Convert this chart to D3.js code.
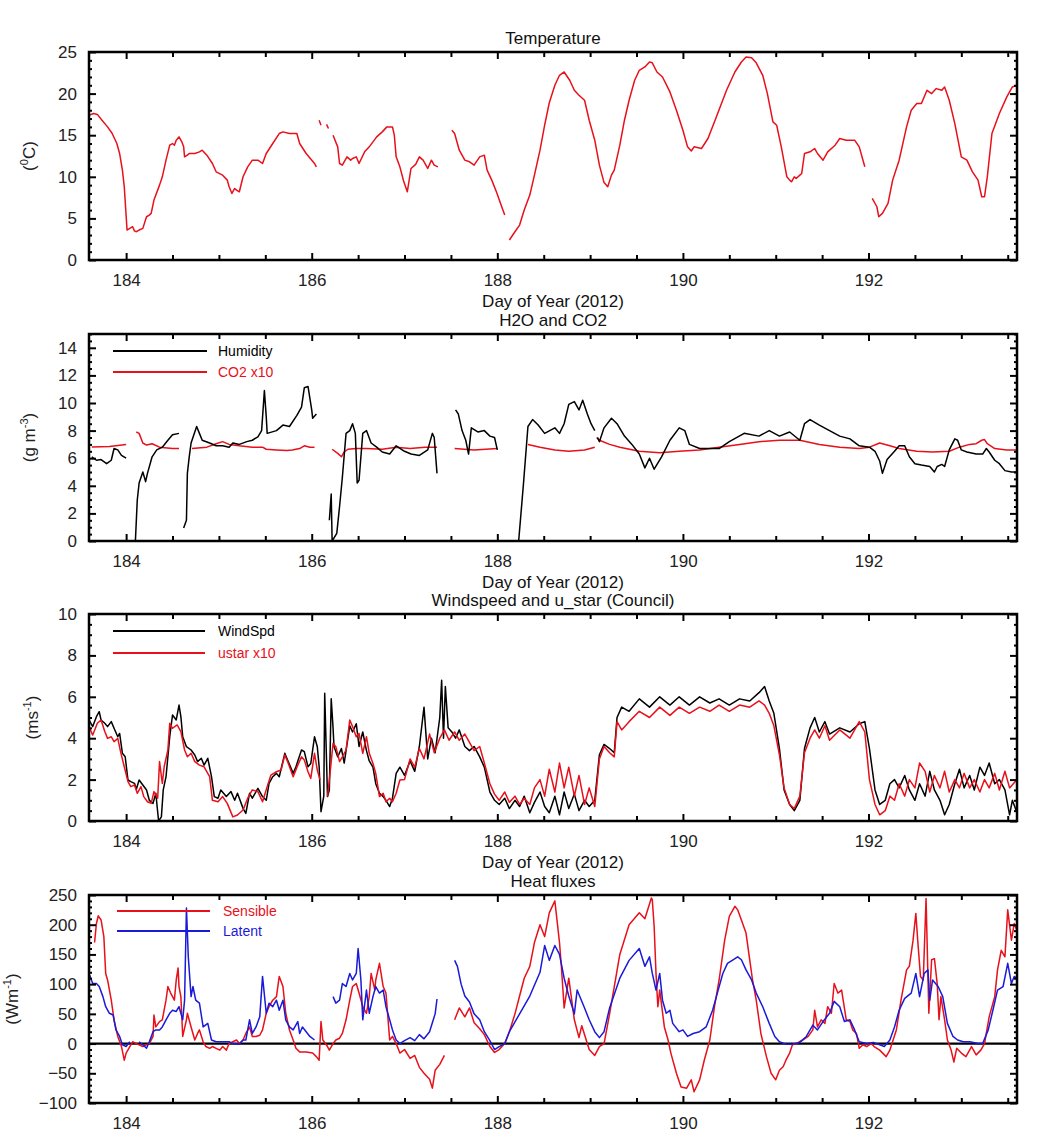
<!DOCTYPE html>
<html><head><meta charset="utf-8">
<script src="https://cdn.jsdelivr.net/npm/d3@7/dist/d3.min.js"></script>
<style>
body{margin:0;background:#fff;}
svg{font-family:"Liberation Sans",Arial,sans-serif;}
</style></head>
<body><svg id="chart" width="1056" height="1145"></svg>
<script>
// ---------------- DATA (day of year, value); each series = list of segments -------------
const dayDomain = [183.6, 193.6];
const dayLabels = [184, 186, 188, 190, 192];

const temperature = [
 [[183.6,17.4],[183.65,17.6],[183.69,17.5],[183.74,16.8],[183.80,16.0],[183.85,15.2],[183.90,14.0],[183.93,12.8],[183.96,10.8],[183.98,8.8],[184.01,3.6],[184.04,3.8],[184.07,4.0],[184.09,3.5],[184.11,3.4],[184.14,3.6],[184.18,3.8],[184.22,5.2],[184.25,5.4],[184.27,5.6],[184.30,7.2],[184.36,9.0],[184.39,10.0],[184.43,12.0],[184.47,13.8],[184.50,14.0],[184.52,13.8],[184.54,14.4],[184.57,14.8],[184.60,14.2],[184.62,13.6],[184.63,12.4],[184.66,12.6],[184.68,12.8],[184.74,12.8],[184.79,13.0],[184.82,13.2],[184.87,12.6],[184.93,11.6],[184.97,10.6],[185.04,10.2],[185.09,9.6],[185.11,8.8],[185.14,8.0],[185.17,8.6],[185.19,8.4],[185.22,8.2],[185.26,10.0],[185.31,11.2],[185.36,12.0],[185.42,12.0],[185.47,11.6],[185.51,12.8],[185.58,14.0],[185.65,15.2],[185.69,15.4],[185.76,15.2],[185.84,15.2],[185.87,14.0],[185.94,12.8],[186.03,11.6],[186.05,11.2]],
 [[186.08,16.8],[186.10,16.2]],
 [[186.16,16.3],[186.18,15.8]],
 [[186.23,15.0],[186.28,13.6],[186.30,11.6],[186.33,11.4],[186.38,12.4],[186.42,12.0],[186.44,12.2],[186.48,12.4],[186.51,11.6],[186.57,13.0],[186.62,13.6],[186.70,14.8],[186.76,15.4],[186.81,16.0],[186.87,16.0],[186.89,15.0],[186.91,12.4],[186.95,11.2],[186.99,9.5],[187.03,8.2],[187.07,11.0],[187.12,11.5],[187.16,12.4],[187.20,12.0],[187.25,11.0],[187.29,12.0],[187.32,11.4],[187.36,11.2]],
 [[187.51,15.6],[187.54,15.2],[187.59,13.2],[187.65,12.0],[187.70,11.8],[187.75,11.4],[187.81,12.4],[187.86,12.6],[187.89,10.8],[187.94,9.6],[187.99,8.2],[188.06,6.0],[188.08,5.4]],
 [[188.13,2.4],[188.19,3.4],[188.24,4.2],[188.29,6.0],[188.35,7.8],[188.40,10.2],[188.46,13.2],[188.51,16.2],[188.56,18.9],[188.62,21.0],[188.67,22.2],[188.72,22.6],[188.78,21.6],[188.83,20.4],[188.88,19.8],[188.94,19.2],[188.99,16.8],[189.05,14.4],[189.10,11.4],[189.15,9.3],[189.19,8.8],[189.23,10.2],[189.26,10.8],[189.32,13.8],[189.37,16.8],[189.42,19.2],[189.48,21.6],[189.53,22.8],[189.59,23.2],[189.64,23.8],[189.67,23.7],[189.72,22.6],[189.78,22.0],[189.86,20.2],[189.93,18.0],[190.00,15.6],[190.05,13.6],[190.09,13.1],[190.12,13.6],[190.20,13.4],[190.27,14.6],[190.36,17.2],[190.47,20.4],[190.56,22.6],[190.63,23.8],[190.68,24.4],[190.74,24.3],[190.79,23.7],[190.86,22.2],[190.91,20.0],[190.97,16.6],[191.01,16.2],[191.06,13.6],[191.12,10.0],[191.15,9.6],[191.17,9.4],[191.20,10.0],[191.22,9.8],[191.26,10.2],[191.28,10.4],[191.31,12.8],[191.37,13.0],[191.42,13.4],[191.45,12.8],[191.51,12.0],[191.56,13.0],[191.64,13.8],[191.69,14.6],[191.76,14.4],[191.85,14.4],[191.90,13.6],[191.96,11.2]],
 [[192.04,7.4],[192.09,6.4],[192.11,5.2],[192.15,5.6],[192.21,6.8],[192.26,9.6],[192.33,12.0],[192.41,16.0],[192.46,18.0],[192.52,18.8],[192.57,18.8],[192.63,20.4],[192.68,20.0],[192.73,20.6],[192.79,20.4],[192.82,20.8],[192.87,19.2],[192.93,16.4],[193.00,12.4],[193.06,12.0],[193.12,10.6],[193.18,9.6],[193.22,7.6],[193.25,7.6],[193.28,10.0],[193.33,15.2],[193.41,17.6],[193.49,19.6],[193.55,20.8],[193.60,21.0]]
];

const humidity = [
 [[183.63,6.1],[183.68,5.85],[183.73,5.9],[183.79,5.6],[183.84,5.85],[183.87,6.7],[183.91,6.6],[183.95,6.2],[184.0,6.0]],
 [[184.10,0],[184.12,2.95],[184.14,4.2],[184.18,5.0],[184.21,4.3],[184.23,4.9],[184.28,6.1],[184.33,6.6],[184.39,6.8],[184.45,7.3],[184.50,7.7],[184.57,7.8]],
 [[184.62,0.95],[184.65,1.5],[184.66,4.9],[184.68,6.1],[184.70,7.1],[184.76,8.3],[184.79,7.8],[184.82,7.3],[184.90,7.1],[184.97,6.9],[185.04,6.9],[185.11,6.8],[185.15,7.1],[185.22,7.0],[185.30,7.2],[185.36,7.3],[185.42,7.55],[185.46,8.0],[185.49,10.9],[185.51,9.0],[185.52,7.8],[185.62,8.0],[185.69,8.4],[185.76,8.3],[185.84,9.1],[185.89,9.7],[185.92,11.1],[185.96,11.2],[186.00,9.5],[186.01,8.9],[186.05,9.2]],
 [[186.19,1.5],[186.21,3.4],[186.22,0],[186.27,0.55],[186.30,2.5],[186.33,4.6],[186.37,7.8],[186.41,8.0],[186.44,8.5],[186.47,7.8],[186.49,4.2],[186.51,4.4],[186.55,7.8],[186.59,8.0],[186.64,7.1],[186.70,6.8],[186.76,6.45],[186.84,6.3],[186.91,6.9],[187.0,6.5],[187.07,6.3],[187.16,6.2],[187.25,6.6],[187.30,7.8],[187.32,7.5],[187.35,4.9]],
 [[187.55,9.5],[187.58,9.2],[187.62,8.0],[187.66,7.3],[187.69,6.3],[187.72,8.2],[187.79,7.9],[187.86,8.0],[187.92,7.6],[187.97,7.5],[188.00,6.6]],
 [[188.23,0],[188.28,4.0],[188.33,8.3],[188.38,8.8],[188.44,8.4],[188.51,7.8],[188.62,8.2],[188.67,7.8],[188.72,8.5],[188.77,9.9],[188.83,10.1],[188.88,9.5],[188.92,10.2],[188.97,9.2],[189.01,8.5],[189.05,8.0]],
 [[189.08,7.5],[189.10,7.2],[189.15,8.2],[189.23,8.9],[189.29,8.5],[189.37,7.6],[189.45,7.0],[189.53,6.3],[189.59,5.3],[189.64,6.0],[189.69,5.2],[189.77,6.1],[189.86,7.3],[189.96,8.2],[190.02,8.0],[190.07,7.0],[190.18,6.7],[190.39,6.7],[190.50,7.2],[190.66,7.8],[190.82,7.6],[190.93,8.0],[191.04,7.6],[191.15,7.9],[191.26,7.3],[191.31,8.5],[191.37,8.8],[191.47,8.4],[191.58,8.0],[191.69,7.6],[191.80,7.4],[191.90,6.9],[192.01,6.8],[192.07,6.5],[192.12,5.8],[192.15,4.9],[192.20,5.9],[192.28,6.5],[192.33,6.9],[192.39,6.9],[192.44,6.1],[192.50,5.6],[192.57,5.5],[192.66,5.4],[192.71,5.0],[192.74,5.4],[192.79,5.55],[192.82,5.4],[192.87,6.6],[192.93,7.4],[192.96,7.3],[193.00,6.6],[193.06,6.45],[193.16,6.3],[193.23,6.3],[193.27,6.7],[193.30,6.45],[193.36,5.85],[193.41,5.6],[193.47,5.1],[193.54,5.0],[193.60,5.0]]
];

const co2x10 = [
 [[183.63,6.82],[183.82,6.85],[184.0,7.0]],
 [[184.11,7.9],[184.14,7.8],[184.18,7.1],[184.22,6.95],[184.28,7.05],[184.36,6.8],[184.50,6.7],[184.57,6.7]],
 [[184.71,6.7],[184.87,6.8],[184.97,7.05],[185.04,7.2],[185.11,7.0],[185.22,6.9],[185.36,6.8],[185.47,6.8],[185.51,6.65],[185.62,6.6],[185.73,6.55],[185.79,6.6],[185.87,6.7],[185.92,6.9],[185.98,6.8],[186.03,6.8]],
 [[186.22,6.65],[186.28,6.35],[186.32,6.1],[186.35,6.45],[186.39,6.65],[186.48,6.7],[186.59,6.7],[186.76,6.65],[186.91,6.8],[187.06,6.7],[187.22,6.8],[187.35,6.8]],
 [[187.54,6.7],[187.75,6.6],[188.00,6.7]],
 [[188.33,7.0],[188.46,6.8],[188.62,6.6],[188.77,6.5],[188.94,6.6],[189.05,6.8]],
 [[189.07,7.5],[189.10,7.3],[189.21,7.0],[189.32,6.8],[189.53,6.5],[189.75,6.4],[189.96,6.5],[190.18,6.6],[190.39,6.8],[190.61,7.0],[190.82,7.2],[191.04,7.3],[191.26,7.3],[191.47,7.0],[191.69,6.8],[191.90,6.7],[192.01,6.8],[192.12,7.1],[192.23,6.9],[192.33,6.7],[192.52,6.5],[192.69,6.45],[192.87,6.5],[192.98,6.8],[193.09,7.0],[193.16,7.05],[193.22,7.3],[193.25,7.35],[193.28,7.05],[193.36,6.7],[193.49,6.6],[193.60,6.6]]
];

const windSpd = [
 [[183.60,4.88],[183.64,4.56],[183.68,5.04],[183.71,5.28],[183.73,4.88],[183.77,4.72],[183.80,4.56],[183.84,4.8],[183.87,4.48],[183.91,4.07],[183.93,4.23],[183.96,3.27],[183.99,3.1],[184.02,1.98],[184.05,1.9],[184.09,1.82],[184.11,1.53],[184.14,1.98],[184.18,1.74],[184.22,1.5],[184.25,1.0],[184.29,0.85],[184.32,1.34],[184.35,0],[184.38,0.2],[184.40,1.5],[184.43,2.14],[184.47,4.07],[184.50,5.12],[184.54,4.88],[184.57,5.6],[184.59,5.04],[184.61,4.07],[184.65,3.59],[184.70,3.43],[184.74,3.19],[184.77,2.87],[184.81,3.03],[184.84,2.7],[184.88,3.03],[184.92,2.14],[184.95,1.18],[184.99,1.1],[185.02,1.5],[185.08,1.18],[185.13,1.42],[185.17,1.0],[185.20,1.34],[185.26,0.61],[185.29,0.37],[185.33,1.34],[185.36,1.1],[185.42,1.58],[185.47,1.18],[185.51,1.0],[185.54,1.82],[185.58,2.14],[185.62,2.3],[185.65,2.14],[185.71,3.27],[185.74,2.95],[185.80,2.3],[185.83,2.62],[185.89,3.43],[185.92,3.35],[185.96,2.62],[185.99,2.78],[186.03,4.07],[186.06,3.59],[186.08,2.62],[186.10,0.45],[186.13,1.2],[186.14,6.17],[186.17,1.18],[186.19,1.5],[186.21,5.9],[186.23,4.5],[186.24,3.6],[186.28,3.1],[186.32,3.5],[186.35,2.8],[186.41,4.6],[186.44,4.3],[186.48,4.7],[186.51,3.6],[186.55,4.3],[186.59,3.4],[186.62,2.9],[186.66,2.6],[186.69,1.8],[186.73,1.34],[186.77,1.18],[186.80,1.0],[186.84,0.7],[186.87,1.1],[186.91,2.3],[186.95,2.6],[187.0,2.2],[187.06,2.9],[187.11,2.4],[187.16,3.6],[187.21,5.5],[187.25,3.0],[187.29,4.0],[187.33,3.3],[187.38,5.0],[187.40,6.8],[187.42,4.0],[187.44,6.5],[187.47,4.5],[187.51,4.3],[187.55,4.0],[187.59,4.4],[187.65,3.6],[187.70,3.4],[187.75,3.6],[187.81,3.1],[187.86,2.6],[187.92,1.4],[187.97,1.0],[188.02,0.8],[188.08,1.1],[188.13,0.6],[188.19,1.0],[188.24,0.7],[188.29,1.2],[188.35,0.4],[188.40,0.9],[188.46,1.4],[188.51,0.7],[188.56,0.4],[188.62,1.2],[188.67,0.3],[188.72,1.4],[188.77,0.6],[188.83,1.3],[188.88,0.5],[188.94,1.0],[188.99,0.7],[189.05,1.0],[189.10,3.2],[189.15,3.7],[189.21,3.5],[189.26,3.3],[189.29,5.0],[189.34,5.5],[189.42,5.3],[189.53,5.9],[189.64,5.5],[189.75,6.0],[189.86,5.6],[189.96,6.0],[190.07,5.6],[190.18,6.0],[190.29,5.7],[190.39,5.9],[190.50,5.6],[190.61,5.9],[190.72,5.8],[190.82,6.2],[190.88,6.5],[190.93,5.8],[190.98,5.2],[191.04,3.5],[191.09,1.5],[191.15,0.8],[191.20,0.5],[191.26,1.0],[191.31,3.5],[191.37,4.5],[191.42,5.0],[191.47,4.3],[191.53,4.8],[191.58,4.2],[191.69,4.5],[191.80,4.3],[191.90,4.7],[191.96,4.8],[192.01,3.5],[192.07,1.5],[192.12,0.8],[192.18,1.0],[192.23,1.8],[192.28,2.0],[192.33,1.6],[192.39,2.2],[192.44,1.5],[192.50,1.0],[192.55,1.8],[192.61,1.2],[192.66,2.4],[192.71,1.5],[192.77,1.0],[192.82,0.3],[192.87,0.8],[192.93,1.8],[192.98,2.5],[193.03,1.6],[193.09,2.2],[193.14,1.5],[193.20,2.6],[193.25,2.2],[193.30,2.8],[193.36,1.8],[193.41,2.0],[193.47,1.5],[193.52,0.3],[193.55,1.0],[193.60,0.4]]
];

const ustarX10 = [
 [[183.60,4.56],[183.64,4.15],[183.69,4.72],[183.73,4.88],[183.77,4.32],[183.80,3.99],[183.84,4.07],[183.87,3.83],[183.91,3.99],[183.94,3.35],[183.98,2.62],[184.02,1.9],[184.05,1.66],[184.09,1.74],[184.12,1.34],[184.16,1.66],[184.19,1.18],[184.23,0.93],[184.27,0.85],[184.30,1.42],[184.34,1.1],[184.36,2.87],[184.39,1.82],[184.41,2.62],[184.45,3.43],[184.47,4.72],[184.50,4.48],[184.55,4.64],[184.59,4.32],[184.63,3.43],[184.66,3.1],[184.70,3.27],[184.74,2.87],[184.79,2.7],[184.84,2.62],[184.90,2.14],[184.93,1.0],[184.99,0.93],[185.04,1.18],[185.09,0.85],[185.15,0.2],[185.20,0.29],[185.26,0.53],[185.31,1.1],[185.36,1.5],[185.42,1.42],[185.47,0.93],[185.52,1.66],[185.56,2.22],[185.62,2.38],[185.67,2.46],[185.71,3.19],[185.74,2.87],[185.80,2.14],[185.85,2.7],[185.89,3.1],[185.92,2.95],[185.96,2.38],[185.99,2.06],[186.03,3.27],[186.06,2.46],[186.09,1.98]],
 [[186.17,1.18],[186.19,1.98],[186.23,3.75],[186.26,3.59],[186.30,2.87],[186.33,3.1],[186.37,3.43],[186.41,4.88],[186.44,4.56],[186.48,4.07],[186.51,4.23],[186.55,3.27],[186.59,4.07],[186.62,3.27],[186.66,2.78],[186.69,2.3],[186.73,1.18],[186.77,1.34],[186.80,0.93],[186.84,1.1],[186.87,0.93],[186.91,1.34],[186.95,1.98],[187.0,2.0],[187.06,3.0],[187.11,2.6],[187.16,3.5],[187.21,3.0],[187.27,4.2],[187.32,3.3],[187.38,4.0],[187.43,4.4],[187.48,3.9],[187.54,4.3],[187.59,3.9],[187.65,4.2],[187.70,3.8],[187.75,3.4],[187.81,3.6],[187.86,2.8],[187.92,1.8],[187.97,1.3],[188.02,1.0],[188.08,1.4],[188.13,0.9],[188.19,1.2],[188.24,0.8],[188.29,1.1],[188.35,0.8],[188.40,1.6],[188.46,2.0],[188.51,1.2],[188.56,2.5],[188.62,1.4],[188.67,2.8],[188.72,1.6],[188.77,2.6],[188.83,1.2],[188.88,2.2],[188.94,0.8],[188.99,1.6],[189.05,0.7],[189.10,3.0],[189.15,3.6],[189.21,3.3],[189.26,3.1],[189.29,4.8],[189.34,4.4],[189.42,4.8],[189.53,5.3],[189.64,5.0],[189.75,5.5],[189.86,5.1],[189.96,5.5],[190.07,5.2],[190.18,5.5],[190.29,5.3],[190.39,5.6],[190.50,5.3],[190.61,5.6],[190.72,5.5],[190.82,5.8],[190.88,5.6],[190.93,5.2],[190.98,4.6],[191.04,3.2],[191.09,1.6],[191.15,0.8],[191.20,0.6],[191.26,1.2],[191.31,3.3],[191.37,4.0],[191.42,4.4],[191.47,4.0],[191.53,4.6],[191.58,3.9],[191.69,4.4],[191.80,4.0],[191.90,4.8],[191.96,4.3],[192.01,2.0],[192.07,0.8],[192.12,0.3],[192.18,0.5],[192.23,1.2],[192.28,1.0],[192.33,1.8],[192.39,1.2],[192.44,2.0],[192.50,1.6],[192.55,2.8],[192.61,2.4],[192.66,1.4],[192.71,2.2],[192.77,1.6],[192.82,2.4],[192.87,1.4],[192.93,2.0],[192.98,1.6],[193.03,2.3],[193.09,1.6],[193.14,2.0],[193.20,1.4],[193.25,2.0],[193.30,1.6],[193.36,2.3],[193.41,1.5],[193.47,2.4],[193.52,1.6],[193.60,2.0]]
];

const sensible = [
 [[183.66,170],[183.68,202],[183.70,215],[183.73,208],[183.76,180],[183.78,118],[183.80,107],[183.84,73],[183.87,40],[183.91,12],[183.95,-5],[183.98,-28],[184.0,-16],[184.04,-5],[184.07,3],[184.11,0],[184.18,-5],[184.22,-2],[184.25,0],[184.29,12],[184.30,48],[184.32,28],[184.36,37],[184.39,40],[184.43,73],[184.45,96],[184.48,85],[184.52,73],[184.54,107],[184.56,127],[184.57,96],[184.59,79],[184.61,12],[184.65,40],[184.66,51],[184.70,28],[184.74,6],[184.77,17],[184.79,23],[184.83,3],[184.86,-5],[184.90,-8],[184.93,-5],[184.97,-8],[185.01,-11],[185.04,-5],[185.08,-11],[185.11,0],[185.15,3],[185.19,6],[185.22,0],[185.26,6],[185.29,17],[185.33,28],[185.36,12],[185.40,12],[185.44,14],[185.47,23],[185.51,51],[185.54,62],[185.58,73],[185.62,79],[185.65,113],[185.69,96],[185.72,51],[185.76,23],[185.80,6],[185.83,-8],[185.87,-14],[185.94,-14],[186.01,-16],[186.05,-22],[186.08,-28],[186.10,37],[186.12,6],[186.17,-5],[186.19,-11],[186.23,0],[186.26,6],[186.30,9],[186.33,17],[186.37,40],[186.41,73],[186.44,96],[186.48,101],[186.51,85],[186.55,62],[186.59,51],[186.62,79],[186.64,118],[186.68,90],[186.69,107],[186.73,135],[186.77,96],[186.80,85],[186.84,6],[186.87,12],[186.91,0],[186.95,-16],[187.0,-10],[187.06,-25],[187.11,-20],[187.16,-40],[187.21,-50],[187.27,-60],[187.30,-75],[187.33,-45],[187.38,-35],[187.43,-20]],
 [[187.54,40],[187.59,60],[187.65,45],[187.70,60],[187.75,35],[187.81,25],[187.86,15],[187.92,-5],[187.97,-15],[188.02,-10],[188.08,0],[188.13,20],[188.19,50],[188.24,80],[188.29,110],[188.35,130],[188.40,170],[188.46,200],[188.51,180],[188.56,220],[188.62,240],[188.67,170],[188.69,130],[188.72,60],[188.77,110],[188.83,40],[188.88,10],[188.91,30],[188.99,-10],[189.05,-20],[189.10,-5],[189.15,0],[189.21,50],[189.32,150],[189.42,200],[189.53,220],[189.59,210],[189.66,245],[189.67,242],[189.69,197],[189.71,118],[189.73,62],[189.75,90],[189.80,28],[189.84,6],[189.87,-16],[189.93,-50],[189.98,-73],[190.04,-75],[190.09,-61],[190.12,-81],[190.18,-61],[190.23,-28],[190.29,6],[190.34,62],[190.39,107],[190.45,174],[190.50,214],[190.56,231],[190.59,225],[190.63,208],[190.68,186],[190.72,141],[190.75,107],[190.79,73],[190.84,17],[190.90,-22],[190.95,-50],[191.00,-61],[191.04,-45],[191.08,-39],[191.11,-28],[191.15,-16],[191.18,-2],[191.22,0],[191.29,6],[191.35,12],[191.40,23],[191.42,56],[191.45,28],[191.49,40],[191.53,34],[191.56,62],[191.60,51],[191.63,101],[191.67,85],[191.71,90],[191.76,40],[191.80,37],[191.83,23],[191.87,17],[191.90,-8],[191.94,-2],[191.98,-5],[192.03,0],[192.06,-5],[192.12,-11],[192.19,-22],[192.23,-11],[192.30,23],[192.35,73],[192.41,124],[192.44,130],[192.48,174],[192.51,219],[192.53,174],[192.56,113],[192.59,107],[192.62,244],[192.65,51],[192.68,141],[192.71,143],[192.74,101],[192.76,40],[192.78,79],[192.82,40],[192.85,6],[192.89,-11],[192.92,-31],[192.95,-8],[193.00,-16],[193.05,-22],[193.11,-5],[193.16,-19],[193.21,-11],[193.25,0],[193.30,45],[193.36,79],[193.39,124],[193.43,157],[193.47,146],[193.50,225],[193.54,174],[193.57,202],[193.60,190]]
];

const latent = [
 [[183.60,118],[183.64,101],[183.68,101],[183.71,96],[183.75,79],[183.78,62],[183.82,51],[183.86,48],[183.89,23],[183.93,12],[183.96,-2],[184.0,-5],[184.04,3]],
 [[184.14,3],[184.18,-2],[184.22,-8],[184.25,3],[184.29,20],[184.32,23],[184.36,23],[184.39,28],[184.43,40],[184.47,51],[184.50,56],[184.54,54],[184.57,62],[184.61,40],[184.63,73],[184.65,228],[184.67,146],[184.70,79],[184.72,96],[184.75,73],[184.79,68],[184.83,28],[184.88,34],[184.92,6],[184.97,3],[185.04,3],[185.11,3],[185.15,0],[185.22,-1],[185.26,6],[185.29,6],[185.33,40],[185.36,17],[185.40,28],[185.44,45],[185.47,113],[185.51,51],[185.54,68],[185.58,62],[185.62,73],[185.65,56],[185.69,73],[185.72,40],[185.76,28],[185.80,23],[185.85,37],[185.87,17],[185.90,28],[185.94,20],[185.98,12],[186.03,6]],
 [[186.23,79],[186.26,68],[186.30,73],[186.33,101],[186.37,96],[186.41,118],[186.44,107],[186.48,118],[186.50,160],[186.53,107],[186.55,40],[186.59,90],[186.62,51],[186.66,79],[186.69,96],[186.73,85],[186.77,90],[186.80,62],[186.84,40],[186.87,23],[186.91,6],[186.95,0],[187.0,5],[187.06,10],[187.11,5],[187.16,15],[187.21,8],[187.27,20],[187.30,35],[187.33,50],[187.35,75]],
 [[187.54,140],[187.57,130],[187.61,100],[187.65,80],[187.70,70],[187.75,50],[187.81,40],[187.86,20],[187.92,5],[187.97,-10],[188.02,-5],[188.08,0],[188.13,20],[188.24,50],[188.35,80],[188.46,120],[188.51,165],[188.56,140],[188.62,165],[188.67,150],[188.72,110],[188.77,80],[188.83,50],[188.86,90],[188.94,60],[188.99,40],[189.05,20],[189.10,10],[189.15,20],[189.21,60],[189.32,110],[189.42,140],[189.53,160],[189.59,130],[189.64,146],[189.67,118],[189.71,90],[189.75,118],[189.78,73],[189.82,51],[189.86,56],[189.89,34],[189.96,20],[190.00,23],[190.05,12],[190.11,17],[190.18,20],[190.25,28],[190.32,56],[190.38,90],[190.43,118],[190.48,135],[190.54,141],[190.59,146],[190.63,141],[190.68,124],[190.74,107],[190.79,85],[190.86,62],[190.93,34],[190.99,12],[191.04,3],[191.11,-1],[191.18,-1],[191.26,2],[191.33,12],[191.40,31],[191.45,23],[191.51,37],[191.58,51],[191.63,71],[191.69,62],[191.74,37],[191.80,40],[191.85,23],[191.90,3],[191.98,0],[192.05,2],[192.12,-2],[192.17,-5],[192.23,6],[192.28,28],[192.33,56],[192.39,76],[192.46,85],[192.51,118],[192.55,79],[192.60,118],[192.64,124],[192.66,73],[192.69,107],[192.75,96],[192.80,79],[192.85,34],[192.91,12],[192.96,6],[193.02,3],[193.09,3],[193.18,0],[193.23,0],[193.29,23],[193.34,56],[193.39,90],[193.45,96],[193.50,135],[193.54,101],[193.57,113],[193.60,110]]
];

// y tick values
const tempTicks = [0,5,10,15,20,25];
const h2oTicks = [0,2,4,6,8,10,12,14];
const windTicks = [0,2,4,6,8,10];
const fluxTicks = [-100,-50,0,50,100,150,200,250];

// ---------------- LAYOUT -------------
const RED = "#e8101a", BLUE = "#1a1ad8", BLACK = "#000";
const L = 89, R = 1017;
const panels = [
  {title:"Temperature", top:52, bottom:260, domain:[0,25], ticks:tempTicks, minor:1, xlabel:true,
   ylab:["(", ["0"], "C)"], ylabX:35,
   series:[{data:temperature, color:RED}], legend:[]},
  {title:"H2O and CO2", top:334, bottom:541, domain:[0,15], ticks:h2oTicks, minor:0.5, xlabel:true,
   ylab:["(g m", ["-3"], ")"], ylabX:35,
   series:[{data:co2x10, color:RED},{data:humidity, color:BLACK}],
   legend:[{label:"Humidity", color:BLACK},{label:"CO2 x10", color:RED}], legX:[113,207,218], legY:[351,372]},
  {title:"Windspeed and u_star (Council)", top:614, bottom:821, domain:[0,10], ticks:windTicks, minor:0.5, xlabel:true,
   ylab:["(ms", ["-1"], ")"], ylabX:38,
   series:[{data:windSpd, color:BLACK},{data:ustarX10, color:RED}],
   legend:[{label:"WindSpd", color:BLACK},{label:"ustar x10", color:RED}], legX:[113,205,218], legY:[631,653]},
  {title:"Heat fluxes", top:895, bottom:1103, domain:[-100,250], ticks:fluxTicks, minor:10, xlabel:false, zero:true,
   ylab:["(Wm", ["-1"], ")"], ylabX:18,
   series:[{data:sensible, color:RED},{data:latent, color:BLUE}],
   legend:[{label:"Sensible", color:RED},{label:"Latent", color:BLUE}], legX:[117,210,223], legY:[911,931]}
];

const svg = d3.select("#chart");
const x = d3.scaleLinear().domain(dayDomain).range([L, R]);
const xHalf = d3.range(184, 193.51, 0.5);

panels.forEach((p, i) => {
  const y = d3.scaleLinear().domain(p.domain).range([p.bottom, p.top]);
  const g = svg.append("g");
  const cid = "clip" + i;
  svg.append("clipPath").attr("id", cid).append("rect")
     .attr("x", L).attr("y", p.top).attr("width", R - L).attr("height", p.bottom - p.top);

  // title
  g.append("text").attr("x", (L + R) / 2).attr("y", p.top - 8).attr("text-anchor", "middle")
   .attr("font-size", 17).attr("fill", "#111").text(p.title);

  // series lines
  const line = d3.line().x(d => x(d[0])).y(d => y(d[1]));
  const lg = g.append("g").attr("clip-path", `url(#${cid})`);
  if (p.zero) {
    lg.append("line").attr("x1", L).attr("x2", R).attr("y1", y(0)).attr("y2", y(0))
      .attr("stroke", "#000").attr("stroke-width", 2.2);
  }
  p.series.forEach(s => {
    s.data.forEach(seg => {
      lg.append("path").datum(seg).attr("d", line).attr("fill", "none")
        .attr("stroke", s.color).attr("stroke-width", 1.5).attr("stroke-linejoin", "round");
    });
  });

  // legend
  p.legend.forEach((e, k) => {
    g.append("line").attr("x1", p.legX[0]).attr("x2", p.legX[1]).attr("y1", p.legY[k]).attr("y2", p.legY[k])
     .attr("stroke", e.color).attr("stroke-width", 2);
    g.append("text").attr("x", p.legX[2]).attr("y", p.legY[k]).attr("dy", "0.35em")
     .attr("font-size", 14).attr("fill", e.color).text(e.label);
  });

  // x axes (ticks inward)
  const xb = d3.axisBottom(x).tickValues(xHalf).tickSize(-5).tickPadding(14)
     .tickFormat(d => dayLabels.includes(d) ? d3.format("d")(d) : "");
  const xbA = g.append("g").attr("transform", `translate(0,${p.bottom})`).call(xb);
  const xt = d3.axisTop(x).tickValues(xHalf).tickSize(-5).tickFormat("");
  const xtA = g.append("g").attr("transform", `translate(0,${p.top})`).call(xt);
  [xbA, xtA].forEach(a => {
    a.selectAll(".tick line").attr("stroke-width", 2)
     .attr("y2", d => (dayLabels.includes(d) ? 7 : 5) * (a === xbA ? -1 : 1));
  });

  // y axes
  const minorVals = d3.range(p.domain[0], p.domain[1] + 1e-9, p.minor).filter(v => !p.ticks.some(t => Math.abs(t - v) < 1e-9));
  const yl = d3.axisLeft(y).tickValues(p.ticks).tickSize(-7).tickPadding(12).tickFormat(d3.format("d"));
  const ylA = g.append("g").attr("transform", `translate(${L},0)`).call(yl);
  g.append("g").attr("transform", `translate(${L},0)`).call(d3.axisLeft(y).tickValues(minorVals).tickSize(-3).tickFormat(""));
  g.append("g").attr("transform", `translate(${R},0)`).call(d3.axisRight(y).tickValues(p.ticks).tickSize(-7).tickFormat(""));
  g.append("g").attr("transform", `translate(${R},0)`).call(d3.axisRight(y).tickValues(minorVals).tickSize(-3).tickFormat(""));

  g.selectAll(".domain").remove();
  g.selectAll(".tick line").attr("stroke", "#000").attr("stroke-width", 2);
  g.selectAll(".tick text").attr("font-size", 17).attr("fill", "#222")
   .attr("font-family", '"Liberation Sans",Arial,sans-serif');

  // frame
  g.append("rect").attr("x", L).attr("y", p.top).attr("width", R - L).attr("height", p.bottom - p.top)
   .attr("fill", "none").attr("stroke", "#000").attr("stroke-width", 2.5);

  // x label
  if (p.xlabel) {
    g.append("text").attr("x", (L + R) / 2).attr("y", p.bottom + 47).attr("text-anchor", "middle")
     .attr("font-size", 17).attr("fill", "#111").text("Day of Year (2012)");
  }

  // y label
  const cy = (p.top + p.bottom) / 2;
  const yt = g.append("text").attr("transform", `translate(${p.ylabX},${cy}) rotate(-90)`)
     .attr("text-anchor", "middle").attr("font-size", 17).attr("fill", "#222");
  p.ylab.forEach(part => {
    if (Array.isArray(part)) {
      yt.append("tspan").attr("font-size", 11).attr("dy", -7).text(part[0]);
    } else {
      const ts = yt.append("tspan").text(part);
      if (part !== p.ylab[0]) ts.attr("dy", 7);
    }
  });
});
</script></body></html>
